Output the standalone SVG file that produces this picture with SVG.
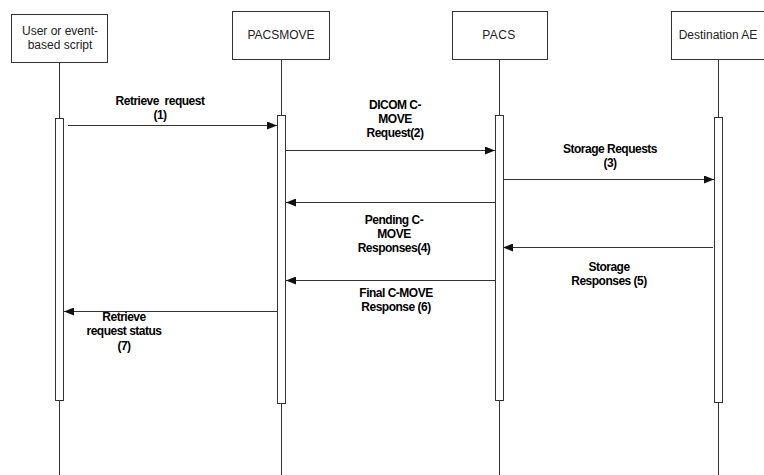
<svg xmlns="http://www.w3.org/2000/svg" width="764" height="475" viewBox="0 0 764 475">
<style>
.box{fill:#fff;stroke:#333;stroke-width:1}
.hd{font-family:"Liberation Sans",Arial,sans-serif;font-size:12px;fill:#222;text-anchor:middle}
.life{stroke:#333;stroke-width:1;fill:none}
.bar{fill:#fff;stroke:#333;stroke-width:1}
.msg{stroke:#333;stroke-width:1;fill:none;marker-end:url(#ah)}
.lb{font-family:"Liberation Sans",Arial,sans-serif;font-size:12px;font-weight:bold;fill:#000;text-anchor:middle;letter-spacing:-0.5px;white-space:pre}
</style>
<defs>
<marker id="ah" viewBox="0 0 10 8" refX="10" refY="4" markerWidth="10" markerHeight="8" markerUnits="userSpaceOnUse" orient="auto">
<path d="M0,0 L10,4 L0,8 z" fill="#111"/>
</marker>
</defs>
<rect width="764" height="475" fill="#fff"/>
<g id="node-user">
<line class="life" x1="59.5" y1="63" x2="59.5" y2="475"/>
<rect class="box" x="11.5" y="14.5" width="96" height="48"/>
<text class="hd" x="60" y="35">User or event-</text>
<text class="hd" x="60" y="49">based script</text>
<rect class="bar" x="55.5" y="118.5" width="8" height="282"/>
</g>
<g id="node-pacsmove">
<line class="life" x1="281.5" y1="60" x2="281.5" y2="475"/>
<rect class="box" x="232.5" y="11.5" width="97" height="48"/>
<text class="hd" x="281" y="39">PACSMOVE</text>
<rect class="bar" x="277.5" y="115.5" width="8" height="288"/>
</g>
<g id="node-pacs">
<line class="life" x1="499.5" y1="60" x2="499.5" y2="475"/>
<rect class="box" x="452.5" y="11.5" width="95" height="48"/>
<text class="hd" x="499" y="39" letter-spacing="0.4">PACS</text>
<rect class="bar" x="495.5" y="115.5" width="8" height="285"/>
</g>
<g id="node-dest">
<line class="life" x1="718.5" y1="60" x2="718.5" y2="475"/>
<rect class="box" x="671.5" y="11.5" width="96" height="48"/>
<text class="hd" x="718" y="39">Destination AE</text>
<rect class="bar" x="714.5" y="117.5" width="8" height="285"/>
</g>
<g id="connectors">
<line class="msg" x1="68" y1="125.5" x2="277" y2="125.5"/>
<line class="msg" x1="286" y1="150.5" x2="495" y2="150.5"/>
<line class="msg" x1="504" y1="179.5" x2="714" y2="179.5"/>
<line class="msg" x1="495" y1="202.5" x2="286" y2="202.5"/>
<line class="msg" x1="713" y1="247.5" x2="503" y2="247.5"/>
<line class="msg" x1="495" y1="280.5" x2="286" y2="280.5"/>
<line class="msg" x1="277" y1="311.5" x2="64" y2="311.5"/>
</g>
<g id="labels">
<text class="lb" x="160" y="105">Retrieve  request</text>
<text class="lb" x="160" y="119">(1)</text>
<text class="lb" x="395" y="109">DICOM C-</text>
<text class="lb" x="395" y="123">MOVE</text>
<text class="lb" x="395" y="137">Request(2)</text>
<text class="lb" x="610" y="153">Storage Requests</text>
<text class="lb" x="610" y="167">(3)</text>
<text class="lb" x="394" y="224">Pending C-</text>
<text class="lb" x="394" y="238">MOVE</text>
<text class="lb" x="394" y="252">Responses(4)</text>
<text class="lb" x="609" y="271">Storage</text>
<text class="lb" x="609" y="285">Responses (5)</text>
<text class="lb" x="396" y="297">Final C-MOVE</text>
<text class="lb" x="396" y="311">Response (6)</text>
<text class="lb" x="124" y="321">Retrieve</text>
<text class="lb" x="124" y="335">request status</text>
<text class="lb" x="124" y="350">(7)</text>
</g>
</svg>
